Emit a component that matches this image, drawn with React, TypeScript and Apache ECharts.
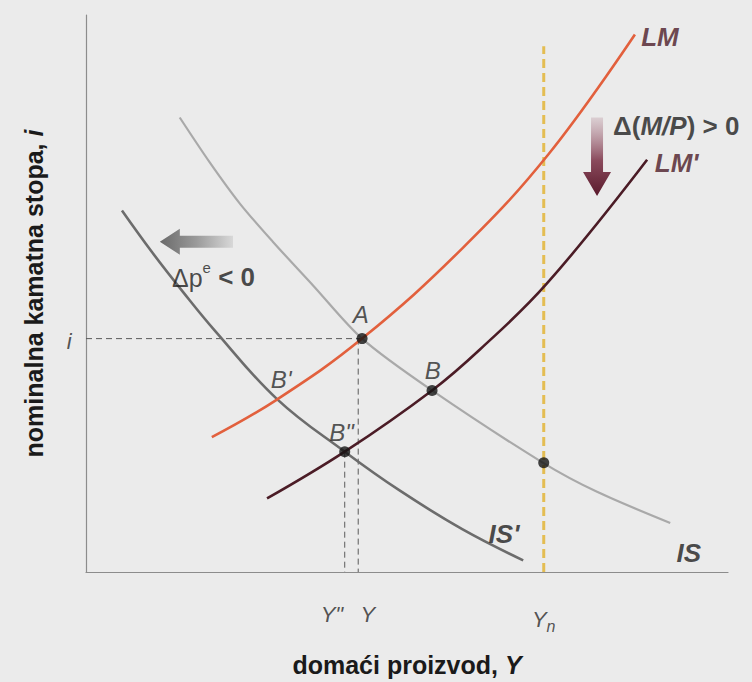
import React, { useEffect, useRef } from "react";
import * as echarts from "echarts";

// Curves (x: output, y: interest rate; 0..100 units)
const isCurve = [[14.6, 81.6], [19.3, 73.5], [24.0, 66.1], [29.1, 59.3], [35.4, 51.4], [43.0, 41.9], [53.9, 32.6], [71.2, 19.6], [79.6, 14.4], [91.0, 8.8]];
const isPrimeCurve = [[5.6, 64.9], [10.3, 57.4], [15.1, 50.3], [20.1, 43.3], [29.8, 31.0], [40.3, 21.6], [48.9, 14.6], [58.6, 7.7], [68.1, 2.1]];
const lmCurve = [[19.6, 24.2], [29.8, 31.0], [43.0, 41.9], [58.7, 58.2], [72.1, 75.1], [85.5, 96.5]];
const lmPrimeCurve = [[28.2, 13.2], [40.3, 21.6], [53.9, 32.6], [61.4, 40.0], [71.8, 51.8], [87.4, 74.0]];

const ynValue = 71.3;
const ynTop = 94.4;
const iLevel = 41.9;
const yLevelX = 42.4;
const pointA = [43.0, 41.9];
const pointB = [53.9, 32.6];
const pointB2 = [40.3, 21.6];
const pointN = [71.3, 19.6];

const pointNames = ["A", "B", "B'", 'B"'];
const pointLabelPos = [[42.8, 46.3], [54.0, 36.2], [30.4, 34.6], [39.8, 25.0]];
const curveNames = ["LM", "LM'", "IS'", "IS"];
const curveLabelPos = [[89.4, 96.1], [92.0, 73.5], [65.1, 6.8], [93.9, 3.4]];

const downArrow = [[79.6, 81.6], [79.6, 67.5]];
const leftArrow = [[22.9, 59.3], [11.5, 59.3]];

const FONT = "'Liberation Sans', Arial, Helvetica, sans-serif";

export default function App() {
  const ref = useRef<HTMLDivElement>(null);

  useEffect(() => {
    const chart = echarts.init(ref.current!, null, { renderer: "svg" });

    const ptLabel = (text: string, pos: number[]) => ({
      value: pos,
      label: {
        show: true,
        formatter: text,
        fontFamily: FONT,
        fontSize: 24,
        fontStyle: "italic",
        color: "#2a2a2a",
        position: "inside",
      },
    });

    const curveLabel = (text: string, pos: number[], color: string) => ({
      value: pos,
      label: {
        show: true,
        formatter: text,
        fontFamily: FONT,
        fontSize: 26,
        fontStyle: "italic",
        fontWeight: "bold",
        color,
        position: "inside",
      },
    });

    const curveColors = ["#4a1a26", "#4a1a26", "#1e1e1e", "#1e1e1e"];

    const labelData: any[] = [];
    pointNames.forEach((n, k) => labelData.push(ptLabel(n, pointLabelPos[k])));
    curveNames.forEach((n, k) => labelData.push(curveLabel(n, curveLabelPos[k], curveColors[k])));

    const axisText = (text: string, pos: number[]) => ({
      value: pos,
      label: { show: true, formatter: text, fontFamily: FONT, fontSize: 22, fontStyle: "italic", color: "#2a2a2a", position: "inside" },
    });
    labelData.push(axisText("i", [-2.6, iLevel - 0.5]));
    labelData.push(axisText('Y"', [38.3, -7.6]));
    labelData.push(axisText("Y", [43.9, -7.6]));
    labelData.push({
      value: [ynValue, -8.8],
      label: {
        show: true,
        formatter: "{a|Y}{s|n}",
        position: "inside",
        rich: {
          a: { fontFamily: FONT, fontSize: 22, fontStyle: "italic", color: "#2a2a2a", verticalAlign: "top", lineHeight: 26 },
          s: { fontFamily: FONT, fontSize: 16, fontStyle: "italic", color: "#2a2a2a", verticalAlign: "bottom", lineHeight: 26, padding: [11, 0, 0, 0] },
        },
      },
    });
    labelData.push({
      value: [13.4, 53.3],
      label: {
        show: true,
        formatter: "{n|Δp}{e|e}{b| < 0}",
        position: "right",
        distance: 0,
        rich: {
          n: { fontFamily: FONT, fontSize: 25, color: "#1e1e1e", lineHeight: 30, verticalAlign: "bottom" },
          e: { fontFamily: FONT, fontSize: 15, color: "#1e1e1e", lineHeight: 30, verticalAlign: "top", padding: [0, 0, 10, 0] },
          b: { fontFamily: FONT, fontSize: 26, fontWeight: "bold", color: "#1e1e1e", lineHeight: 30, verticalAlign: "bottom" },
        },
      },
    });
    labelData.push({
      value: [82.1, 80.0],
      label: {
        show: true,
        formatter: "{b|Δ(}{i|M/P}{b|) > 0}",
        position: "right",
        distance: 0,
        rich: {
          b: { fontFamily: FONT, fontSize: 26, fontWeight: "bold", color: "#1e1e1e" },
          i: { fontFamily: FONT, fontSize: 26, fontWeight: "bold", fontStyle: "italic", color: "#1e1e1e" },
        },
      },
    });

    const option: any = {
      animation: false,
      backgroundColor: "#ebebeb",
      grid: { left: 86, top: 15, width: 642, height: 570 },
      xAxis: {
        type: "value",
        min: 0,
        max: 100,
        axisLine: { show: true, lineStyle: { color: "#8c8c8c", width: 1.2 } },
        axisTick: { show: false },
        axisLabel: { show: false },
        splitLine: { show: false },
        name: "domaći proizvod, {y|Y}",
        nameLocation: "middle",
        nameGap: 80,
        nameTextStyle: {
          fontFamily: FONT,
          fontSize: 25,
          fontWeight: "bold",
          color: "#1a1a1a",
          rich: { y: { fontFamily: FONT, fontSize: 25, fontWeight: "bold", fontStyle: "italic", color: "#1a1a1a" } },
        },
      },
      yAxis: {
        type: "value",
        min: 0,
        max: 100,
        axisLine: { show: true, lineStyle: { color: "#8c8c8c", width: 1.2 } },
        axisTick: { show: false },
        axisLabel: { show: false },
        splitLine: { show: false },
        name: "nominalna kamatna stopa, {i|i}",
        nameLocation: "middle",
        nameRotate: 90,
        nameGap: 40,
        nameTextStyle: {
          fontFamily: FONT,
          fontSize: 25,
          fontWeight: "bold",
          color: "#1a1a1a",
          rich: { i: { fontFamily: FONT, fontSize: 25, fontWeight: "bold", fontStyle: "italic", color: "#1a1a1a" } },
        },
      },
      series: [
        {
          type: "line",
          data: [[0, iLevel], pointA],
          symbol: "none",
          lineStyle: { color: "#5a5a5a", width: 1, type: [6, 4] },
          z: 1,
        },
        {
          type: "line",
          data: [[yLevelX, iLevel], [yLevelX, 0]],
          symbol: "none",
          lineStyle: { color: "#5a5a5a", width: 1, type: [6, 4] },
          z: 1,
        },
        {
          type: "line",
          data: [pointB2, [pointB2[0], 0]],
          symbol: "none",
          lineStyle: { color: "#5a5a5a", width: 1, type: [6, 4] },
          z: 1,
        },
        {
          type: "line",
          data: [[ynValue, 0], [ynValue, ynTop]],
          symbol: "none",
          lineStyle: { color: "#e4bd52", width: 3, type: [9, 5] },
          z: 1,
        },
        { name: "IS", type: "line", data: isCurve, smooth: 0.3, symbol: "none", lineStyle: { color: "#a9a9a9", width: 2.2 }, z: 2 },
        { name: "IS'", type: "line", data: isPrimeCurve, smooth: 0.4, symbol: "none", lineStyle: { color: "#6c6c6c", width: 2.6 }, z: 2 },
        { name: "LM", type: "line", data: lmCurve, smooth: 0.4, symbol: "none", lineStyle: { color: "#e2603d", width: 2.6 }, z: 3 },
        { name: "LM'", type: "line", data: lmPrimeCurve, smooth: 0.4, symbol: "none", lineStyle: { color: "#4b1c26", width: 2.6 }, z: 3 },
        {
          type: "scatter",
          data: [pointA, pointB, pointB2, pointN],
          symbolSize: 11,
          itemStyle: { color: "#151515" },
          z: 5,
        },
        {
          type: "scatter",
          data: labelData,
          symbolSize: 0,
          clip: false,
          silent: true,
          z: 6,
        },
      ],
    };

    chart.setOption(option);

    const px = (v: number[]) => chart.convertToPixel({ gridIndex: 0 }, v) as number[];
    const d0 = px(downArrow[0]);
    const d1 = px(downArrow[1]);
    const l0 = px(leftArrow[0]);
    const l1 = px(leftArrow[1]);

    const sw = 6, hw = 14, hl = 24;
    const cx = d0[0];
    const downPts = [
      [cx - sw, d0[1]], [cx + sw, d0[1]], [cx + sw, d1[1] - hl], [cx + hw, d1[1] - hl],
      [cx, d1[1]], [cx - hw, d1[1] - hl], [cx - sw, d1[1] - hl],
    ];
    const cy = l0[1];
    const lsw = 6, lhw = 13, lhl = 20;
    const leftPts = [
      [l0[0], cy - lsw], [l0[0], cy + lsw], [l1[0] + lhl, cy + lsw], [l1[0] + lhl, cy + lhw],
      [l1[0], cy], [l1[0] + lhl, cy - lhw], [l1[0] + lhl, cy - lsw],
    ];

    chart.setOption({
      graphic: [
        {
          type: "polygon",
          shape: { points: downPts },
          style: {
            fill: {
              type: "linear", x: 0, y: 0, x2: 0, y2: 1,
              colorStops: [
                { offset: 0, color: "rgba(170,120,135,0.25)" },
                { offset: 0.55, color: "#8a4a5c" },
                { offset: 1, color: "#5a1a2c" },
              ],
            },
          },
          z: 10,
        },
        {
          type: "polygon",
          shape: { points: leftPts },
          style: {
            fill: {
              type: "linear", x: 0, y: 0, x2: 1, y2: 0,
              colorStops: [
                { offset: 0, color: "#6a6a6a" },
                { offset: 0.5, color: "#9a9a9a" },
                { offset: 1, color: "#d8d8d8" },
              ],
            },
          },
          z: 10,
        },
      ],
    });

    return () => chart.dispose();
  }, []);

  return (
    <div
      ref={ref}
      style={{ position: "fixed", left: 0, top: 0, width: 752, height: 682, background: "#ebebeb" }}
    />
  );
}
